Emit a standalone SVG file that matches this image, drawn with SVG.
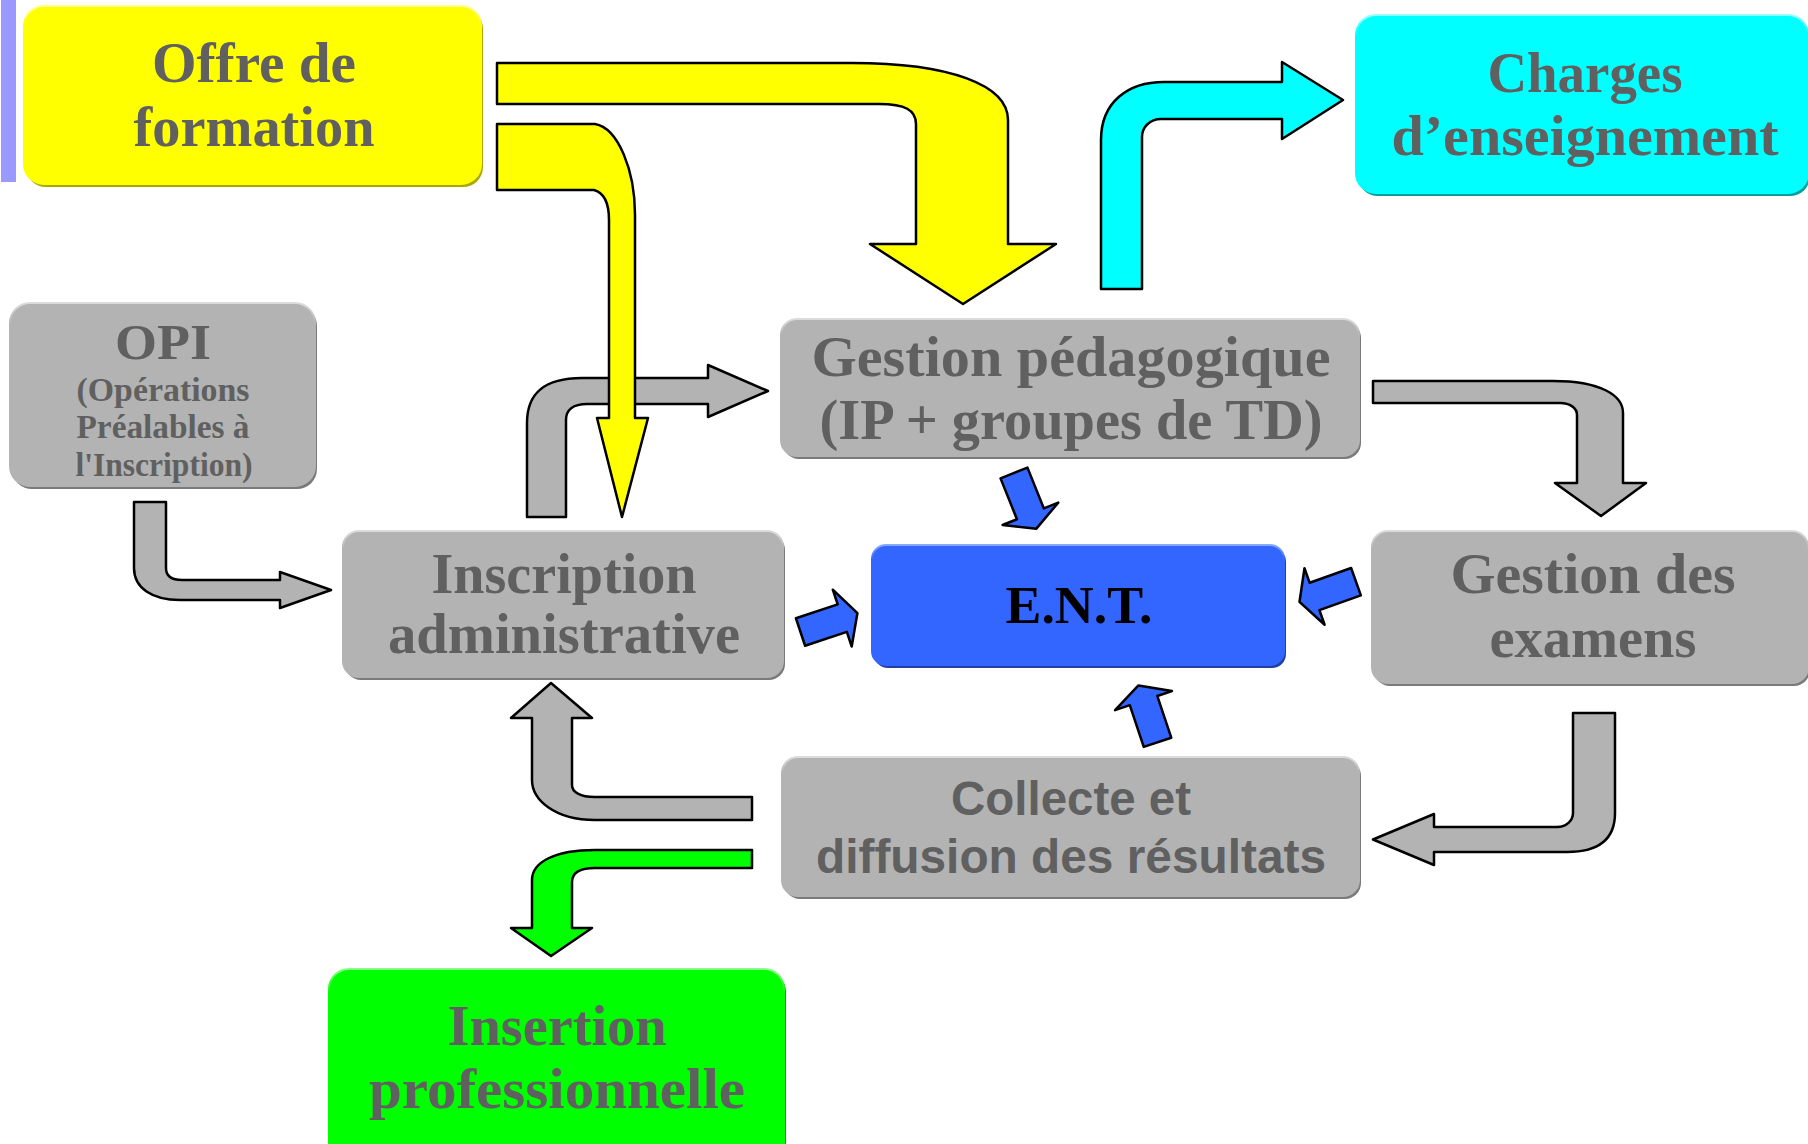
<svg xmlns="http://www.w3.org/2000/svg" width="1808" height="1144" viewBox="0 0 1808 1144">
<style>
.t{font-family:"Liberation Serif","DejaVu Serif",serif;font-weight:bold;fill:#606060;text-anchor:middle}
.ts{font-family:"Liberation Sans","DejaVu Sans",sans-serif;font-weight:bold;fill:#606060;text-anchor:middle}
.arr{stroke:#000;stroke-width:2.5;stroke-linejoin:round}
.gray{fill:#b3b3b3}
.yel{fill:#ffff00}
.cy{fill:#00ffff}
.grn{fill:#00ff00}
.blu{fill:#3366ff}
</style>
<defs>
<linearGradient id="eGray" x1="0" y1="0" x2="0" y2="1"><stop offset="0" stop-color="#dcdcdc"/><stop offset="0.12" stop-color="#b3b3b3"/><stop offset="1" stop-color="#b3b3b3"/></linearGradient>
<linearGradient id="eYel" x1="0" y1="0" x2="0" y2="1"><stop offset="0" stop-color="#ffff90"/><stop offset="0.12" stop-color="#ffff00"/><stop offset="1" stop-color="#ffff00"/></linearGradient>
<linearGradient id="eCy" x1="0" y1="0" x2="0" y2="1"><stop offset="0" stop-color="#99ffff"/><stop offset="0.12" stop-color="#00ffff"/><stop offset="1" stop-color="#00ffff"/></linearGradient>
<linearGradient id="eGrn" x1="0" y1="0" x2="0" y2="1"><stop offset="0" stop-color="#88ff88"/><stop offset="0.12" stop-color="#00ff00"/><stop offset="1" stop-color="#00ff00"/></linearGradient>
<linearGradient id="eBlu" x1="0" y1="0" x2="0" y2="1"><stop offset="0" stop-color="#88aaff"/><stop offset="0.12" stop-color="#3366ff"/><stop offset="1" stop-color="#3366ff"/></linearGradient>
<path id="blueArrow" d="M0,-14.5 L44,-14.5 L44,-30 L60,0 L44,30 L44,14.5 L0,14.5 Z"/>
</defs>

<rect x="1" y="0" width="15" height="182" fill="#9999ff"/>

<g id="node-offre">
<rect x="26" y="9" width="457" height="178" rx="20" fill="#a8a800"/>
<rect x="24" y="6" width="457" height="178" rx="20" class="yel" stroke="url(#eYel)" stroke-width="2"/>
<text class="t" x="254" y="82" font-size="56" textLength="204" lengthAdjust="spacingAndGlyphs">Offre de</text>
<text class="t" x="254" y="146" font-size="56" textLength="241" lengthAdjust="spacingAndGlyphs">formation</text>
</g>

<g id="node-charges">
<rect x="1358" y="18" width="452" height="178" rx="20" fill="#00a0a0"/>
<rect x="1356" y="15" width="452" height="178" rx="20" class="cy" stroke="url(#eCy)" stroke-width="2"/>
<text class="t" x="1585" y="92" font-size="56" textLength="195" lengthAdjust="spacingAndGlyphs">Charges</text>
<text class="t" x="1585" y="155" font-size="56" textLength="387" lengthAdjust="spacingAndGlyphs">d’enseignement</text>
</g>

<g id="node-opi">
<rect x="12" y="306" width="305" height="183" rx="20" fill="#7a7a7a"/>
<rect x="10" y="303" width="305" height="183" rx="20" class="gray" stroke="url(#eGray)" stroke-width="2"/>
<text class="t" x="163" y="359" font-size="50" textLength="96" lengthAdjust="spacingAndGlyphs">OPI</text>
<text class="t" x="163" y="401" font-size="33" textLength="173" lengthAdjust="spacingAndGlyphs">(Opérations</text>
<text class="t" x="163" y="438" font-size="33" textLength="173" lengthAdjust="spacingAndGlyphs">Préalables à</text>
<text class="t" x="164" y="476" font-size="33" textLength="177" lengthAdjust="spacingAndGlyphs">l'Inscription)</text>
</g>

<g id="node-gestion-peda">
<rect x="783" y="322" width="578" height="137" rx="16" fill="#7a7a7a"/>
<rect x="781" y="319" width="578" height="137" rx="16" class="gray" stroke="url(#eGray)" stroke-width="2"/>
<text class="t" x="1071" y="376" font-size="56" textLength="519" lengthAdjust="spacingAndGlyphs">Gestion pédagogique</text>
<text class="t" x="1071" y="439" font-size="56" textLength="503" lengthAdjust="spacingAndGlyphs">(IP + groupes de TD)</text>
</g>

<g id="node-inscription">
<rect x="345" y="534" width="440" height="146" rx="16" fill="#7a7a7a"/>
<rect x="343" y="531" width="440" height="146" rx="16" class="gray" stroke="url(#eGray)" stroke-width="2"/>
<text class="t" x="564" y="593" font-size="56" textLength="265" lengthAdjust="spacingAndGlyphs">Inscription</text>
<text class="t" x="564" y="653" font-size="56" textLength="352" lengthAdjust="spacingAndGlyphs">administrative</text>
</g>

<g id="node-ent">
<rect x="874" y="548" width="412" height="120" rx="14" fill="#2040a8"/>
<rect x="872" y="545" width="412" height="120" rx="14" class="blu" stroke="url(#eBlu)" stroke-width="2"/>
<text class="t" x="1079" y="623" font-size="53" style="fill:#000" textLength="147" lengthAdjust="spacingAndGlyphs">E.N.T.</text>
</g>

<g id="node-examens">
<rect x="1374" y="534" width="436" height="152" rx="16" fill="#7a7a7a"/>
<rect x="1372" y="531" width="436" height="152" rx="16" class="gray" stroke="url(#eGray)" stroke-width="2"/>
<text class="t" x="1593" y="593" font-size="56" textLength="285" lengthAdjust="spacingAndGlyphs">Gestion des</text>
<text class="t" x="1593" y="657" font-size="56" textLength="207" lengthAdjust="spacingAndGlyphs">examens</text>
</g>

<g id="node-collecte">
<rect x="784" y="760" width="577" height="139" rx="16" fill="#7a7a7a"/>
<rect x="782" y="757" width="577" height="139" rx="16" class="gray" stroke="url(#eGray)" stroke-width="2"/>
<text class="ts" x="1071" y="815" font-size="47.5" textLength="240" lengthAdjust="spacingAndGlyphs">Collecte et</text>
<text class="ts" x="1071" y="873" font-size="47.5" textLength="510" lengthAdjust="spacingAndGlyphs">diffusion des résultats</text>
</g>

<g id="node-insertion">
<rect x="331" y="972" width="455" height="200" rx="20" fill="#00a000"/>
<rect x="329" y="969" width="455" height="200" rx="20" class="grn" stroke="url(#eGrn)" stroke-width="2"/>
<text class="t" x="557" y="1045" font-size="56" textLength="219" lengthAdjust="spacingAndGlyphs">Insertion</text>
<text class="t" x="557" y="1108" font-size="56" textLength="376" lengthAdjust="spacingAndGlyphs">professionnelle</text>
</g>

<g id="connectors">
<path class="arr gray" d="M134,502 L166,502 L166,568 C166,576 171,580 182,580 L280,580 L280,572 L331,590 L280,608 L280,600 L180,600 C152,600 134,588 134,568 Z"/>
<path class="arr gray" d="M527,517 L527,423 C527,395 542,378 582,378 L708,378 L708,365 L768,391 L708,417 L708,404 L587,404 C573,404 566,410 566,420 L566,517 Z"/>
<path class="arr yel" d="M497,63 L852,63 C950,63 1008,85 1008,120 L1008,244 L1056,244 L963,304 L870,244 L916,244 L916,124 C916,110 905,104 879,104 L497,104 Z"/>
<path class="arr yel" d="M497,124 L595,124 C618,128 635,170 635,215 L635,418 L648,418 L622,517 L597,418 L609,418 L609,220 C609,204 605,193 594,190 L497,190 Z"/>
<path class="arr cy" d="M1101,289 L1101,140 C1101,102 1128,82 1164,82 L1282,82 L1282,62 L1343,100 L1282,139 L1282,119 L1161,119 C1150,119 1142,127 1142,137 L1142,289 Z"/>
<path class="arr gray" d="M1373,381 L1553,381 C1600,381 1623,395 1623,413 L1623,483 L1646,483 L1601,516 L1555,483 L1577,483 L1577,415 C1577,408 1570,403 1560,403 L1373,403 Z"/>
<path class="arr gray" d="M1573,713 L1615,713 L1615,813 C1615,838 1600,852 1567,852 L1434,852 L1434,865 L1373,839.5 L1434,814 L1434,827 L1557,827 C1567,827 1573,820 1573,813 Z"/>
<path class="arr gray" d="M752,797 L752,820 L595,820 C555,820 532,800 532,780 L532,718 L511,718 L551,683 L592,718 L572,718 L572,785 C572,792 580,797 595,797 Z"/>
<path class="arr grn" d="M752,850 L752,868 L595,868 C580,868 572,872 572,882 L572,928 L592,928 L551,956 L511,928 L532,928 L532,880 C532,862 555,850 595,850 Z"/>
<use href="#blueArrow" class="arr blu" transform="translate(1014,473) rotate(68.1)"/>
<use href="#blueArrow" class="arr blu" transform="translate(800.5,632) rotate(-18.4)"/>
<use href="#blueArrow" class="arr blu" transform="translate(1356,581.7) rotate(160.4)"/>
<use href="#blueArrow" class="arr blu" transform="translate(1157.5,742.3) rotate(-108.5)"/>
</g>
</svg>
